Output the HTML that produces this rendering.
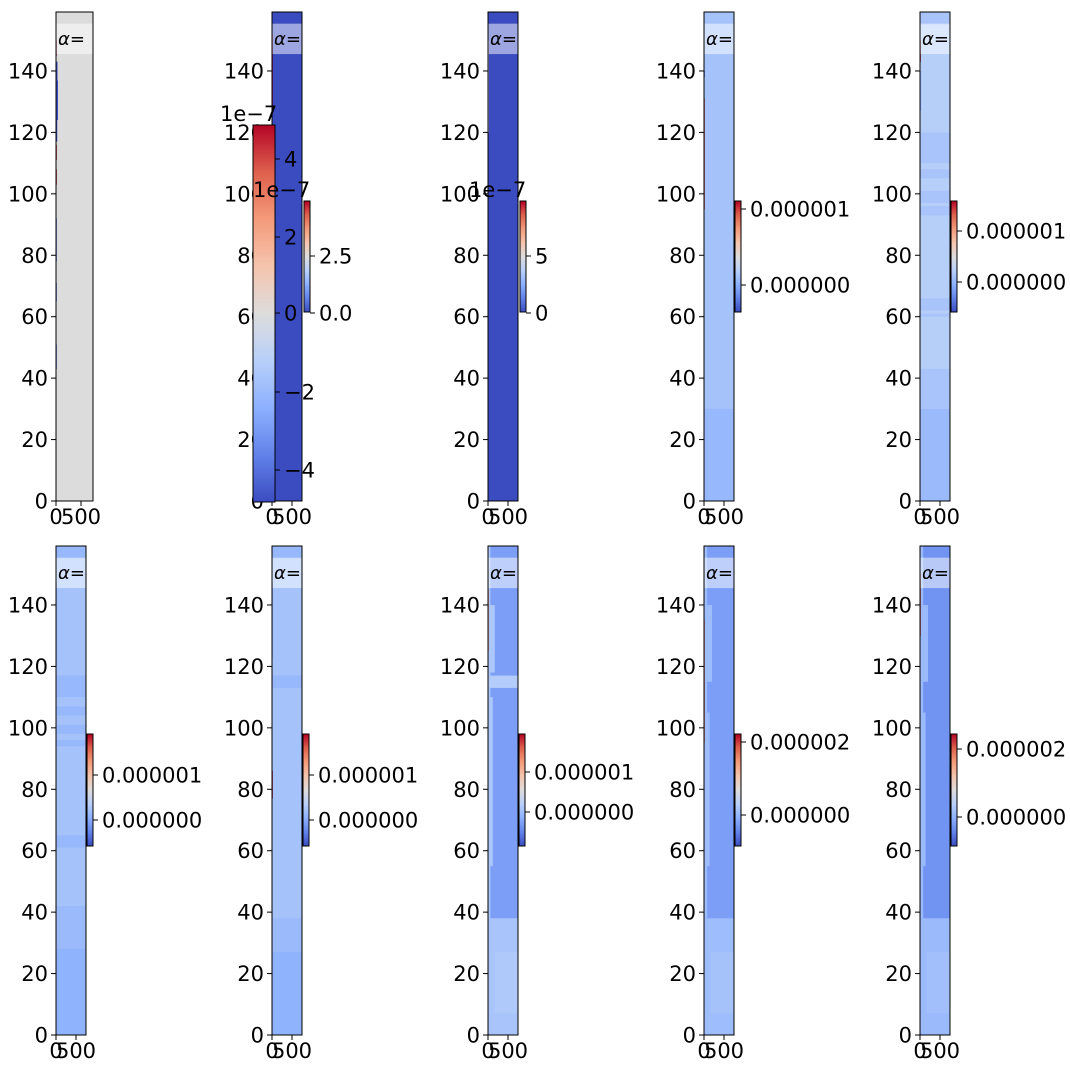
<!DOCTYPE html>
<html><head><meta charset="utf-8">
<style>
html,body{margin:0;padding:0;background:#fff;}
svg{display:block;font-family:"DejaVu Sans","Liberation Sans",sans-serif;}
</style></head>
<body>
<svg id="fig" width="1070" height="1071" viewBox="0 0 1070 1071"></svg>
<script>
// ---- data ----
const yTicks = [0, 20, 40, 60, 80, 100, 120, 140];
const xTicks = [0, 500];
const yMax = 159.2;
// regions per panel: [x0, x1, y0, y1, colormap value 0..1]
const regionsP1 = [[0,740,0,159.2,0.5],[0,40,124,137,0],[0,25,117,124,0],[0,30,137,143,0],[0,12,78,92,0.05],[0,10,65,71,0.05],[0,10,43,51,0.05],[0,10,103,108,1],[0,10,111,116,1],[0,10,145,150,1]];
const regionsP2 = [[0,750,0,159.2,0],[0,14,126,152,1]];
const regionsP3 = [[0,750,0,159.2,0],[0,12,120,150,0.5]];
const regionsP4 = [[0,750,0,159.2,0.32],[0,750,0,30,0.28],[0,14,95,131,0.9],[0,20,138,140,0.05]];
const regionsP5 = [[0,750,0,159.2,0.37],[0,750,0,30,0.29],[0,750,30,43,0.33],[0,750,97,120,0.33],[0,750,108,110,0.37],[0,750,101,105,0.37],[0,750,93,96,0.33],[0,750,62,66,0.33],[0,750,60,61,0.33],[0,750,155,159.2,0.33],[0,30,127,140,0.25],[0,12,143,150,1]];
const regionsP6 = [[0,750,0,159.2,0.32],[0,750,0,28,0.26],[0,750,28,42,0.29],[0,750,110,117,0.28],[0,750,104,107,0.28],[0,750,98,101,0.28],[0,750,94,96,0.28],[0,750,61,65,0.28],[0,750,155,159.2,0.28],[0,20,120,147,0.22]];
const regionsP7 = [[0,750,0,159.2,0.32],[0,750,0,27,0.26],[0,750,27,38,0.29],[0,750,113,117,0.28],[0,750,155,159.2,0.28],[0,20,123,147,0.22],[0,12,77,86,1]];
const regionsP8 = [[0,750,0,159.2,0.2],[0,750,0,38,0.33],[160,750,7,27,0.35],[0,60,38,159.2,0.34],[0,120,55,110,0.34],[0,170,118,140,0.34],[0,750,113,117,0.36],[0,20,125,145,0.8]];
const regionsP9 = [[0,750,0,159.2,0.2],[0,750,0,38,0.3],[160,750,7,27,0.32],[0,80,38,159.2,0.3],[0,140,55,105,0.3],[0,200,115,140,0.3],[0,12,95,135,0.85]];
const regionsP10 = [[0,750,0,159.2,0.17],[0,750,0,38,0.29],[160,750,7,27,0.31],[0,80,38,159.2,0.29],[0,140,55,105,0.29],[0,200,115,140,0.29],[0,10,130,150,0.9]];
const allRegions = [regionsP1,regionsP2,regionsP3,regionsP4,regionsP5,regionsP6,regionsP7,regionsP8,regionsP9,regionsP10];
const panelXMax = [740,750,750,750,750,750,750,750,750,750];
const cbLabelsR1 = [["4","2","0","−2","−4"],["2.5","0.0"],["5","0"],["0.000001","0.000000"],["0.000001","0.000000"]];
const cbLabelsR2 = [["0.000001","0.000000"],["0.000001","0.000000"],["0.000001","0.000000"],["0.000002","0.000000"],["0.000002","0.000000"]];

// ---- layout ----
const NS = "http://www.w3.org/2000/svg";
const svg = document.getElementById('fig');
const FS = 21;
function mk(tag, attrs, parent){ const e=document.createElementNS(NS,tag); for(const k in attrs) e.setAttribute(k,attrs[k]); (parent||svg).appendChild(e); return e; }
const stops=[[0,[59,76,192]],[0.125,[98,130,234]],[0.25,[141,176,254]],[0.375,[184,208,249]],[0.5,[221,220,220]],[0.625,[245,196,173]],[0.75,[244,154,123]],[0.875,[222,96,77]],[1,[180,4,38]]];
function cmap(t){ t=Math.max(0,Math.min(1,t)); for(let i=1;i<stops.length;i++){ if(t<=stops[i][0]){ const a=stops[i-1],b=stops[i]; const f=(t-a[0])/(b[0]-a[0]); const c=a[1].map((v,j)=>Math.round(v+(b[1][j]-v)*f)); return `rgb(${c})`; } } return 'rgb(180,4,38)'; }
const defs = mk('defs',{});
const g = mk('linearGradient',{id:'cw',x1:0,y1:1,x2:0,y2:0},defs);
for(let i=0;i<=16;i++){ mk('stop',{offset:(i/16),'stop-color':cmap(i/16)},g); }

const colLeft=[56,272,488,704,920];
const rowTop=[12,546], rowBot=[501,1035];

function panel(idx){
  const r=Math.floor(idx/5), c=idx%5;
  const L=colLeft[c], W=(r===0&&c===0)?37:30, T=rowTop[r], B=rowBot[r];
  const xm=panelXMax[idx];
  const sx=v=>L+v/xm*W, sy=v=>B-v/yMax*(B-T);
  const grp=mk('g',{});
  
  
  allRegions[idx].forEach(([x0,x1,y0,y1,t])=>{
    const re=mk('rect',{x:sx(x0),y:sy(y1),width:Math.max(0.8,sx(x1)-sx(x0)),height:sy(y0)-sy(y1),fill:cmap(t)},grp);
    
    
  });
  const box=mk('rect',{x:L,y:sy(155.4),width:W,height:sy(145.5)-sy(155.4),fill:'#fff','fill-opacity':0.5},grp);
  
  
  const at=mk('text',{x:L+2,y:sy(145.5)-9,'font-size':18,fill:'#000'},grp);
  at.innerHTML='<tspan font-style="italic">α</tspan>=';
  
  
  const fr=mk('rect',{x:L,y:T,width:W,height:B-T,fill:'none',stroke:'#000','stroke-width':1},grp);
  
  
  yTicks.forEach(v=>{
    mk('line',{x1:L-5,x2:L,y1:sy(v),y2:sy(v),stroke:'#000'},grp);
    const t=mk('text',{x:L-8,y:sy(v)+7.5,'font-size':FS,'text-anchor':'end'},grp);
    t.textContent=v;
    
    
  });
  xTicks.forEach(v=>{
    mk('line',{x1:sx(v),x2:sx(v),y1:B,y2:B+5,stroke:'#000'},grp);
    const t=mk('text',{x:sx(v),y:B+23,'font-size':FS,'text-anchor':'middle'},grp);
    t.textContent=v;
    
    
  });
}
for(let i=0;i<10;i++) panel(i);

function colorbar(x,w,top,bot,tickYs,labels,name){
  const grp=mk('g',{});
  
  
  mk('rect',{x:x,y:top,width:w,height:bot-top,fill:'url(#cw)',stroke:'#000','stroke-width':1},grp);
  labels.forEach((lab,i)=>{
    const ty=tickYs[i];
    mk('line',{x1:x+w,x2:x+w+5,y1:ty,y2:ty,stroke:'#000'},grp);
    const t=mk('text',{x:x+w+9,y:ty+7.5,'font-size':FS},grp);
    t.textContent=lab;
    
    
  });
  return grp;
}
function sci(x,y){ const t=mk('text',{x:x,y:y,'font-size':FS}); t.textContent='1e−7';   }
// row 1
colorbar(253,22,125,502,[159,237,313,392,470],cbLabelsR1[0],'colorbar-1-large');
sci(220,121);
colorbar(304,6,201,312,[256,313],cbLabelsR1[1],'colorbar-2');
sci(253,197);
colorbar(520,6,201,312,[256,313],cbLabelsR1[2],'colorbar-3'); sci(469,197);
colorbar(735,6,201,312,[209,285],cbLabelsR1[3],'colorbar-4');
colorbar(951,6,201,312,[231,282],cbLabelsR1[4],'colorbar-5');
// row 2
colorbar(87,6,734,846,[775,820],cbLabelsR2[0],'colorbar-6');
colorbar(303,6,734,846,[775,820],cbLabelsR2[1],'colorbar-7');
colorbar(519,6,734,846,[772,812],cbLabelsR2[2],'colorbar-8');
colorbar(735,6,734,846,[742,815],cbLabelsR2[3],'colorbar-9');
colorbar(951,6,734,846,[749,817],cbLabelsR2[4],'colorbar-10');
</script>
</body></html>
